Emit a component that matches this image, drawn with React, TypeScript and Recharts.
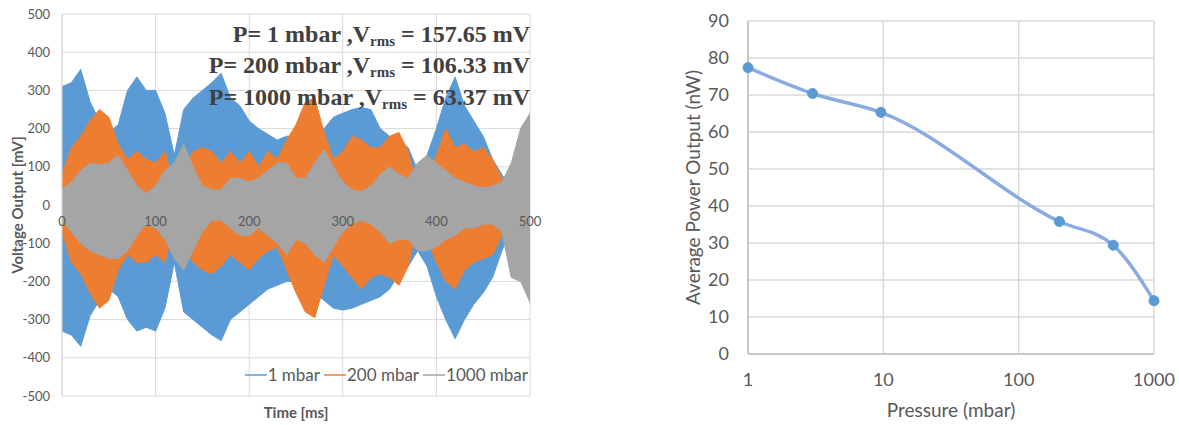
import React from 'react';
import {
  ComposedChart,
  Area,
  XAxis,
  YAxis,
  CartesianGrid,
  Legend,
  LineChart,
  Line,
} from 'recharts';

// ---------- Left panel: voltage waveforms (envelopes) ----------
const times = [0, 10, 20, 30, 40, 50, 60, 70, 80, 90, 100, 110, 120, 130, 140, 150, 160, 170, 180, 190, 200, 210, 220, 230, 240, 250, 260, 270, 280, 290, 300, 310, 320, 330, 340, 350, 360, 370, 380, 390, 400, 410, 420, 430, 440, 450, 460, 470, 480, 490, 500];

const blueUpper = [310, 320, 355, 270, 220, 190, 210, 300, 335, 300, 300, 240, 130, 250, 280, 300, 320, 345, 280, 260, 220, 200, 185, 170, 180, 180, 180, 180, 200, 230, 240, 250, 255, 250, 200, 180, 170, 150, 90, 130, 200, 280, 335, 260, 220, 180, 120, 80, 40, 0, 0];
const blueLower = [-330, -340, -370, -290, -250, -220, -240, -300, -330, -320, -330, -270, -150, -280, -300, -320, -340, -355, -300, -280, -260, -240, -220, -210, -200, -200, -210, -230, -250, -270, -275, -270, -260, -250, -240, -220, -180, -160, -120, -160, -240, -300, -350, -300, -260, -230, -190, -120, -60, 0, 0];

const orangeUpper = [80, 150, 180, 220, 250, 230, 160, 120, 140, 120, 110, 140, 50, 90, 140, 150, 140, 110, 140, 110, 140, 100, 140, 120, 170, 210, 270, 280, 190, 120, 140, 180, 170, 150, 150, 180, 190, 140, 40, 70, 130, 200, 150, 160, 140, 150, 120, 70, 20, 0, 0];
const orangeLower = [-70, -150, -180, -230, -270, -250, -170, -130, -150, -150, -130, -150, -50, -110, -150, -170, -180, -160, -130, -150, -170, -140, -120, -110, -170, -230, -280, -295, -210, -130, -160, -190, -220, -190, -180, -190, -210, -160, -50, -90, -150, -200, -220, -170, -150, -140, -130, -80, -30, 0, 0];

const grayUpper = [40, 60, 90, 110, 105, 110, 130, 90, 50, 30, 50, 90, 110, 160, 100, 50, 40, 40, 70, 70, 60, 70, 90, 110, 110, 70, 70, 110, 145, 100, 60, 40, 35, 50, 80, 100, 80, 70, 110, 130, 110, 90, 70, 60, 50, 45, 50, 60, 110, 200, 240];
const grayLower = [-40, -70, -100, -120, -130, -140, -140, -120, -80, -50, -60, -90, -140, -170, -120, -70, -40, -40, -60, -80, -80, -60, -80, -100, -130, -90, -100, -130, -150, -110, -70, -50, -40, -50, -70, -100, -90, -90, -120, -120, -110, -90, -80, -60, -60, -50, -50, -70, -190, -200, -255];

const waveNames = ['1 mbar', '200 mbar', '1000 mbar'];
const waveColors = ['#5b9bd5', '#ed7d31', '#a5a5a5'];
const timeTicks = [0, 100, 200, 300, 400, 500];
const voltTicks = [-500, -400, -300, -200, -100, 0, 100, 200, 300, 400, 500];

const annotations = [
  { p: '1', v: '157.65' },
  { p: '200', v: '106.33' },
  { p: '1000', v: '63.37' },
];

// ---------- Right panel: average power vs pressure ----------
const pressures = [1, 3, 9.6, 200, 500, 1000];
const powers = [77.4, 70.4, 65.3, 35.8, 29.4, 14.4];
const pressureTicks = [1, 10, 100, 1000];
const powerTicks = [0, 10, 20, 30, 40, 50, 60, 70, 80, 90];

const waveData = times.map((t, i) => ({
  t,
  b: [blueLower[i], blueUpper[i]],
  o: [orangeLower[i], orangeUpper[i]],
  g: [grayLower[i], grayUpper[i]],
}));

const powerData = pressures.map((p, i) => ({ p, w: powers[i] }));

const FONT = 'Lato, "Open Sans", sans-serif';
const TEXT = '#595959';
const GRID = '#d9d9d9';

const TimeTick = (props: any) => {
  const { x, y, payload } = props;
  return (
    <text x={x} y={y - 178} textAnchor="middle" fill={TEXT} fontSize={13} fontFamily={FONT}>
      {payload.value}
    </text>
  );
};

const WaveLegend = (props: any) => {
  const items = [...(props.payload || [])].sort(
    (a: any, b: any) => waveNames.indexOf(a.value) - waveNames.indexOf(b.value)
  );
  return (
    <div style={{ display: 'flex', justifyContent: 'flex-end', alignItems: 'center', fontFamily: FONT, fontSize: 17, color: TEXT }}>
      {items.map((p: any) => (
        <span key={p.value} style={{ display: 'flex', alignItems: 'center', marginLeft: 4 }}>
          <svg width={22} height={10} style={{ marginRight: 1 }}>
            <line x1={0} y1={5} x2={22} y2={5} stroke={p.color} strokeWidth={1.5} />
          </svg>
          <span>{p.value}</span>
        </span>
      ))}
    </div>
  );
};

export default function App() {
  return (
    <div style={{ position: 'absolute', left: 0, top: 0, width: 1179, height: 425, background: '#fff', overflow: 'hidden' }}>
      {/* Left chart */}
      <div style={{ position: 'absolute', left: 0, top: 0 }}>
        <ComposedChart width={560} height={425} data={waveData} margin={{ top: 14, right: 30, bottom: 0, left: 0 }}>
          <CartesianGrid stroke={GRID} strokeWidth={1} />
          <XAxis
            dataKey="t"
            type="number"
            domain={[0, 500]}
            ticks={timeTicks}
            height={29}
            axisLine={false}
            tickLine={false}
            tick={<TimeTick />}
            label={{ value: 'Time [ms]', position: 'insideBottom', offset: 7, fill: TEXT, fontSize: 15, fontWeight: 700, fontFamily: FONT }}
          />
          <YAxis
            type="number"
            domain={[-500, 500]}
            ticks={voltTicks}
            width={62}
            tickLine={false}
            tickSize={6}
            tickMargin={6}
            axisLine={{ stroke: GRID }}
            tick={{ fill: TEXT, fontSize: 13, fontFamily: FONT }}
            label={{ value: 'Voltage Output [mV]', angle: -90, position: 'center', dx: -13, fill: TEXT, fontSize: 15, fontWeight: 700, fontFamily: FONT }}
          />
          <Legend
            verticalAlign="middle"
            layout="horizontal"
            content={<WaveLegend />}
            wrapperStyle={{ left: 0, top: 364, width: 528 }}
          />
          <Area dataKey="b" name={waveNames[0]} type="linear" fill={waveColors[0]} fillOpacity={1} stroke={waveColors[0]} strokeWidth={1} isAnimationActive={false} legendType="plainline" />
          <Area dataKey="o" name={waveNames[1]} type="linear" fill={waveColors[1]} fillOpacity={1} stroke={waveColors[1]} strokeWidth={1} isAnimationActive={false} legendType="plainline" />
          <Area dataKey="g" name={waveNames[2]} type="linear" fill={waveColors[2]} fillOpacity={1} stroke={waveColors[2]} strokeWidth={1} isAnimationActive={false} legendType="plainline" />
        </ComposedChart>
        <div
          style={{
            position: 'absolute',
            left: 0,
            top: 20,
            width: 530,
            textAlign: 'right',
            fontFamily: '"Liberation Serif", "Times New Roman", serif',
            fontWeight: 700,
            fontSize: 24,
            lineHeight: '28.4px',
            color: '#404040',
            whiteSpace: 'nowrap',
          }}
        >
          {annotations.map((a) => (
            <div key={a.p}>
              P= {a.p} mbar ,V<span style={{ fontSize: 15, position: 'relative', top: 4 }}>rms</span> = {a.v} mV
            </div>
          ))}
        </div>
      </div>

      {/* Right chart */}
      <div style={{ position: 'absolute', left: 600, top: 0 }}>
        <LineChart width={579} height={425} data={powerData} margin={{ top: 21, right: 25, bottom: 0, left: 0 }}>
          <CartesianGrid stroke={GRID} strokeWidth={1.5} />
          <XAxis
            dataKey="p"
            type="number"
            scale="log"
            domain={[1, 1000]}
            ticks={pressureTicks}
            height={71}
            tickLine={false}
            tickSize={6}
            tickMargin={13}
            axisLine={{ stroke: '#bfbfbf', strokeWidth: 1.5 }}
            tick={{ fill: TEXT, fontSize: 18, fontFamily: FONT }}
            label={{ value: 'Pressure (mbar)', position: 'insideBottom', offset: 8, fill: TEXT, fontSize: 19, fontFamily: FONT }}
          />
          <YAxis
            type="number"
            domain={[0, 90]}
            ticks={powerTicks}
            width={148}
            tickLine={false}
            tickSize={6}
            tickMargin={13}
            axisLine={{ stroke: '#bfbfbf', strokeWidth: 1.5 }}
            tick={{ fill: TEXT, fontSize: 18, fontFamily: FONT }}
            label={{ value: 'Average Power Output (nW)', angle: -90, position: 'center', dx: 19, fill: TEXT, fontSize: 19, fontFamily: FONT }}
          />
          <Line
            dataKey="w"
            type="monotone"
            stroke="#8aabe2"
            strokeWidth={3.5}
            dot={{ r: 5, fill: '#5b9bd5', stroke: '#5b9bd5', strokeWidth: 1 }}
            isAnimationActive={false}
          />
        </LineChart>
      </div>
    </div>
  );
}
